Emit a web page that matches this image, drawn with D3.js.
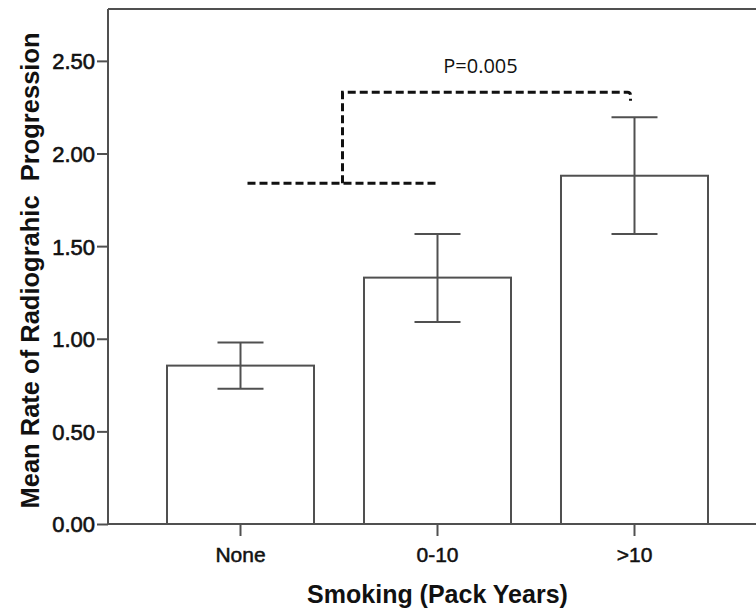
<!DOCTYPE html>
<html>
<head>
<meta charset="utf-8">
<script src="https://cdn.jsdelivr.net/npm/d3@7"></script>
<style>
  html, body { margin: 0; padding: 0; background: #ffffff; }
  svg { display: block; }
</style>
</head>
<body>
<svg id="chart" width="756" height="614"></svg>
<script>
// ---- data ----
const categories = ["None", "0-10", ">10"];
const means = [0.855, 1.33, 1.88];
const ciLow = [0.73, 1.09, 1.565];
const ciHigh = [0.98, 1.565, 2.195];
const yTicks = [0, 0.5, 1.0, 1.5, 2.0, 2.5];
const bracketLowY = 1.84;     // lower dashed line level
const bracketHighY = 2.33;    // upper dashed line level
const bracketHookY = 2.285;   // end of hook on upper line
const pLabel = "P=0.005";
const xTitle = "Smoking (Pack Years)";
const yTitle = "Mean Rate of Radiograhic\u00A0 Progression";

// ---- layout ----
const svg = d3.select("#chart");
const mLeft = 108, mRight = 767, mTop = 9, mBottom = 524;
const axisColor = "#505050";

const x = d3.scaleBand()
  .domain(categories)
  .range([mLeft, mRight])
  .paddingInner(0.2538)
  .paddingOuter(0.2995);

const y = d3.scaleLinear().domain([0, 2.78]).range([mBottom, mTop]);

// top frame line
svg.append("line")
  .attr("x1", mLeft).attr("x2", 756)
  .attr("y1", y(2.78)).attr("y2", y(2.78))
  .attr("stroke", axisColor).attr("stroke-width", 2);

// bars
svg.append("g").selectAll("rect")
  .data(categories)
  .join("rect")
  .attr("x", d => x(d))
  .attr("y", (d, i) => y(means[i]))
  .attr("width", x.bandwidth())
  .attr("height", (d, i) => y(0) - y(means[i]))
  .attr("fill", "#ffffff")
  .attr("stroke", axisColor)
  .attr("stroke-width", 2);

// error bars
const capHalf = 23;
const eb = svg.append("g").attr("stroke", axisColor).attr("stroke-width", 2).attr("fill", "none");
categories.forEach((c, i) => {
  const cx = x(c) + x.bandwidth() / 2;
  eb.append("line").attr("x1", cx).attr("x2", cx).attr("y1", y(ciLow[i])).attr("y2", y(ciHigh[i]));
  eb.append("line").attr("x1", cx - capHalf).attr("x2", cx + capHalf).attr("y1", y(ciLow[i])).attr("y2", y(ciLow[i]));
  eb.append("line").attr("x1", cx - capHalf).attr("x2", cx + capHalf).attr("y1", y(ciHigh[i])).attr("y2", y(ciHigh[i]));
});

// y axis
const yAxis = svg.append("g")
  .attr("transform", `translate(${mLeft},0)`)
  .call(d3.axisLeft(y).tickValues(yTicks).tickFormat(d3.format(".2f")).tickSize(11).tickPadding(2));
yAxis.select(".domain").attr("stroke", axisColor).attr("stroke-width", 2)
  .attr("d", `M0,${y(0)}V${y(2.78)}`);
yAxis.selectAll(".tick line").attr("stroke", axisColor).attr("stroke-width", 2);
yAxis.selectAll(".tick text")
  .attr("font-family", "Liberation Sans, Arial, sans-serif")
  .attr("font-size", 22)
  .attr("fill", "#111")
  .attr("stroke", "#111")
  .attr("stroke-width", 0.6)
  .attr("dy", "0.36em");

// x axis
const xAxis = svg.append("g")
  .attr("transform", `translate(0,${mBottom})`)
  .call(d3.axisBottom(x).tickSize(12).tickPadding(11));
xAxis.select(".domain").attr("stroke", axisColor).attr("stroke-width", 2)
  .attr("d", `M${mLeft},0H756`);
xAxis.selectAll(".tick line").attr("stroke", axisColor).attr("stroke-width", 2);
xAxis.selectAll(".tick text")
  .attr("font-family", "Liberation Sans, Arial, sans-serif")
  .attr("font-size", 21)
  .attr("fill", "#111")
  .attr("stroke", "#111")
  .attr("stroke-width", 0.5);

// axis titles
svg.append("text")
  .attr("x", (x("0-10") + x.bandwidth() / 2))
  .attr("y", 603)
  .attr("text-anchor", "middle")
  .attr("font-family", "Liberation Sans, Arial, sans-serif")
  .attr("font-weight", "bold")
  .attr("font-size", 25)
  .attr("fill", "#111")
  .text(xTitle);

svg.append("text")
  .attr("transform", `translate(39,${(mTop + mBottom) / 2 + 4}) rotate(-90)`)
  .attr("text-anchor", "middle")
  .attr("font-family", "Liberation Sans, Arial, sans-serif")
  .attr("font-weight", "bold")
  .attr("font-size", 25.5)
  .attr("fill", "#111")
  .text(yTitle);

// significance bracket
const c0 = x(categories[0]) + x.bandwidth() / 2 + 7;
const c1 = x(categories[1]) + x.bandwidth() / 2;
const c2 = x(categories[2]) + x.bandwidth() / 2 - 4;
const mid = (c0 + c1) / 2;
const dash = svg.append("g")
  .attr("fill", "none")
  .attr("stroke", "#111")
  .attr("stroke-width", 3)
  .attr("stroke-dasharray", "8,4");
dash.append("path").attr("d", `M${c0},${y(bracketLowY)}H${c1}`);
dash.append("path").attr("d", `M${mid},${y(bracketLowY)}V${y(bracketHighY)}H${c2 - 3}Q${c2},${y(bracketHighY)} ${c2},${y(bracketHighY) + 3}V${y(bracketHookY)}`);

svg.append("text")
  .attr("x", (mid + c2) / 2 - 6)
  .attr("y", y(bracketHighY) - 19)
  .attr("text-anchor", "middle")
  .attr("font-family", "Open Sans, Noto Sans, sans-serif")
  .attr("font-size", 20)
  .attr("fill", "#111")
  .text(pLabel);
</script>
</body>
</html>
